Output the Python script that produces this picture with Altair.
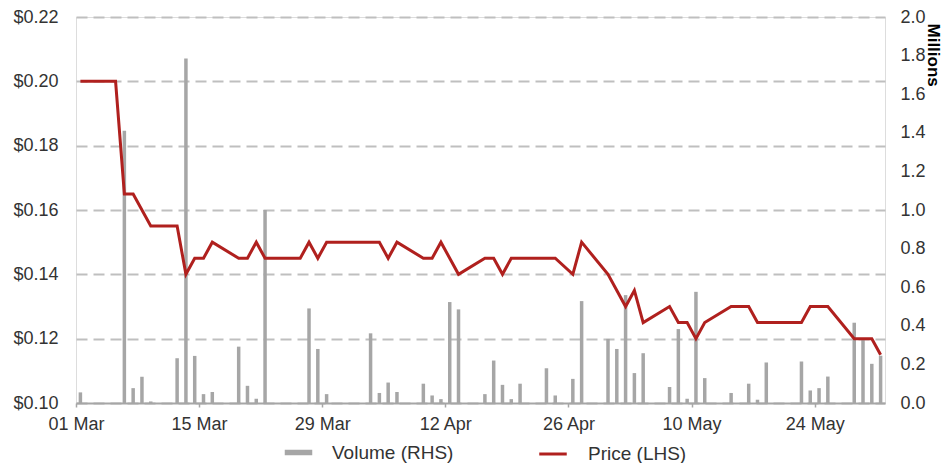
import altair as alt
import pandas as pd

# Daily traded volume (millions), 2018
vol_dates = [
    "2018-03-01", "2018-03-06", "2018-03-07", "2018-03-08", "2018-03-09",
    "2018-03-12", "2018-03-13", "2018-03-14", "2018-03-15", "2018-03-16",
    "2018-03-19", "2018-03-20", "2018-03-21", "2018-03-22", "2018-03-27",
    "2018-03-28", "2018-03-29", "2018-04-03", "2018-04-04", "2018-04-05",
    "2018-04-06", "2018-04-09", "2018-04-10", "2018-04-11", "2018-04-12",
    "2018-04-13", "2018-04-16", "2018-04-17", "2018-04-18", "2018-04-19",
    "2018-04-20", "2018-04-23", "2018-04-24", "2018-04-26", "2018-04-27",
    "2018-04-30", "2018-05-01", "2018-05-02", "2018-05-03", "2018-05-04",
    "2018-05-07", "2018-05-08", "2018-05-09", "2018-05-10", "2018-05-11",
    "2018-05-14", "2018-05-16", "2018-05-17", "2018-05-18", "2018-05-22",
    "2018-05-23", "2018-05-24", "2018-05-25", "2018-05-28", "2018-05-29",
    "2018-05-30", "2018-05-31",
]
vol_values = [
    0.055, 1.41, 0.077, 0.136, 0.008,
    0.232, 1.785, 0.244, 0.046, 0.057,
    0.292, 0.089, 0.022, 1.0, 0.49,
    0.28, 0.046, 0.361, 0.052, 0.106,
    0.057, 0.10, 0.039, 0.02, 0.523,
    0.485, 0.046, 0.22, 0.094, 0.02,
    0.10, 0.18, 0.039, 0.125, 0.528,
    0.332, 0.28, 0.559, 0.155, 0.258,
    0.083, 0.383, 0.022, 0.576, 0.129,
    0.052, 0.10, 0.017, 0.21, 0.215,
    0.065, 0.077, 0.137, 0.416, 0.33,
    0.203, 0.245,
]

# Share price (A$)
price_dates = [
    "2018-03-01", "2018-03-05", "2018-03-06", "2018-03-07", "2018-03-09",
    "2018-03-12", "2018-03-13", "2018-03-14", "2018-03-15", "2018-03-16",
    "2018-03-19", "2018-03-20", "2018-03-21", "2018-03-22", "2018-03-26",
    "2018-03-27", "2018-03-28", "2018-03-29", "2018-04-04", "2018-04-05",
    "2018-04-06", "2018-04-09", "2018-04-10", "2018-04-11", "2018-04-13",
    "2018-04-16", "2018-04-17", "2018-04-18", "2018-04-19", "2018-04-24",
    "2018-04-26", "2018-04-27", "2018-04-30", "2018-05-02", "2018-05-03",
    "2018-05-04", "2018-05-07", "2018-05-08", "2018-05-09", "2018-05-10",
    "2018-05-11", "2018-05-14", "2018-05-16", "2018-05-17", "2018-05-22",
    "2018-05-23", "2018-05-25", "2018-05-28", "2018-05-30", "2018-05-31",
]
price_values = [
    0.20, 0.20, 0.165, 0.165, 0.155,
    0.155, 0.14, 0.145, 0.145, 0.15,
    0.145, 0.145, 0.15, 0.145, 0.145,
    0.15, 0.145, 0.15, 0.15, 0.145,
    0.15, 0.145, 0.145, 0.15, 0.14,
    0.145, 0.145, 0.14, 0.145, 0.145,
    0.14, 0.15, 0.14, 0.13, 0.135,
    0.125, 0.13, 0.125, 0.125, 0.12,
    0.125, 0.13, 0.13, 0.125, 0.125,
    0.13, 0.13, 0.12, 0.12, 0.115,
]

price_ticks = [0.10, 0.12, 0.14, 0.16, 0.18, 0.20, 0.22]
vol_ticks = [0.0, 0.2, 0.4, 0.6, 0.8, 1.0, 1.2, 1.4, 1.6, 1.8, 2.0]
x_tick_days = [(3, 1), (3, 15), (3, 29), (4, 12), (4, 26), (5, 10), (5, 24)]

vol_df = pd.DataFrame({"date": vol_dates, "volume": vol_values, "series": "Volume (RHS)"})
price_df = pd.DataFrame({"date": price_dates, "price": price_values, "series": "Price (LHS)"})

FONT = "Liberation Sans"
TXT = "#333333"
GRAY = "#A6A6A6"
RED = "#B0201E"

x_domain = [
    alt.DateTime(year=2018, month=3, date=1, utc=True),
    alt.DateTime(year=2018, month=6, date=1, utc=True),
]
x_values = [alt.DateTime(year=2018, month=m, date=d, utc=True) for m, d in x_tick_days]

x_axis = alt.Axis(
    values=x_values, format="%d %b", grid=False, domainColor=GRAY, domainWidth=2,
    tickColor=GRAY, tickSize=4, tickWidth=1.5, labelPadding=8, labelFontSize=18,
    labelColor=TXT, labelFont=FONT, labelFlush=False,
)
x_enc = alt.X(
    "mid:T",
    scale=alt.Scale(type="utc", domain=x_domain, padding=0, nice=False),
    axis=x_axis,
    title=None,
)

bars = (
    alt.Chart(vol_df)
    .transform_calculate(mid="+toDate(datum.date) + 43200000")
    .mark_bar(size=3.5)
    .encode(
        x=x_enc,
        y=alt.Y(
            "volume:Q",
            scale=alt.Scale(domain=[0, 2.0], nice=False, zero=True),
            axis=alt.Axis(
                orient="right", values=vol_ticks, format=".1f", grid=False, domain=False,
                ticks=False, tickSize=0, labelPadding=15, labelFontSize=18, labelColor=TXT,
                labelFont=FONT, title="Millions", titleFont=FONT, titleFontSize=17,
                titleFontWeight="bold", titleColor="#000000", titleAngle=90,
                titleAlign="left", titleBaseline="alphabetic", titleX=42, titleY=6,
            ),
        ),
        fill=alt.Fill(
            "series:N",
            scale=alt.Scale(domain=["Volume (RHS)"], range=[GRAY]),
            legend=alt.Legend(
                orient="none", legendX=195, legendY=408, title=None, padding=0,
                symbolType="M-0.5,-0.1H0.5V0.1H-0.5Z", symbolSize=3025,
                symbolStrokeWidth=0, symbolOpacity=1, labelFontSize=19, labelFont=FONT,
                labelColor=TXT, labelOffset=6,
            ),
        ),
    )
)

line = (
    alt.Chart(price_df)
    .transform_calculate(mid="+toDate(datum.date) + 43200000")
    .mark_line(strokeWidth=3)
    .encode(
        x=x_enc,
        y=alt.Y(
            "price:Q",
            scale=alt.Scale(domain=[0.10, 0.22], nice=False, zero=False),
            axis=alt.Axis(
                orient="left", values=price_ticks, format="$.2f", grid=True,
                gridDash=[11, 6], gridColor="#BFBFBF", gridWidth=2, domain=False,
                ticks=False, tickSize=0, labelPadding=18, labelFontSize=18,
                labelColor=TXT, labelFont=FONT, title=None,
            ),
        ),
        stroke=alt.Stroke(
            "series:N",
            scale=alt.Scale(domain=["Price (LHS)"], range=[RED]),
            legend=alt.Legend(
                orient="none", legendX=448, legendY=408, title=None, padding=0,
                symbolType="M-0.5,0H0.5", symbolSize=3025, symbolStrokeWidth=3,
                labelFontSize=19, labelFont=FONT, labelColor=TXT, labelOffset=6,
            ),
        ),
    )
)

chart = (
    alt.layer(bars, line)
    .resolve_scale(y="independent")
    .properties(
        width=809,
        height=386,
        autosize=alt.AutoSizeParams(type="none"),
        padding={"left": 68, "top": 9, "right": 58, "bottom": 60},
    )
    .configure_view(stroke=None)
    .configure(font=FONT)
)

chart.save("out.html", embed_options={"renderer": "svg", "actions": False})
